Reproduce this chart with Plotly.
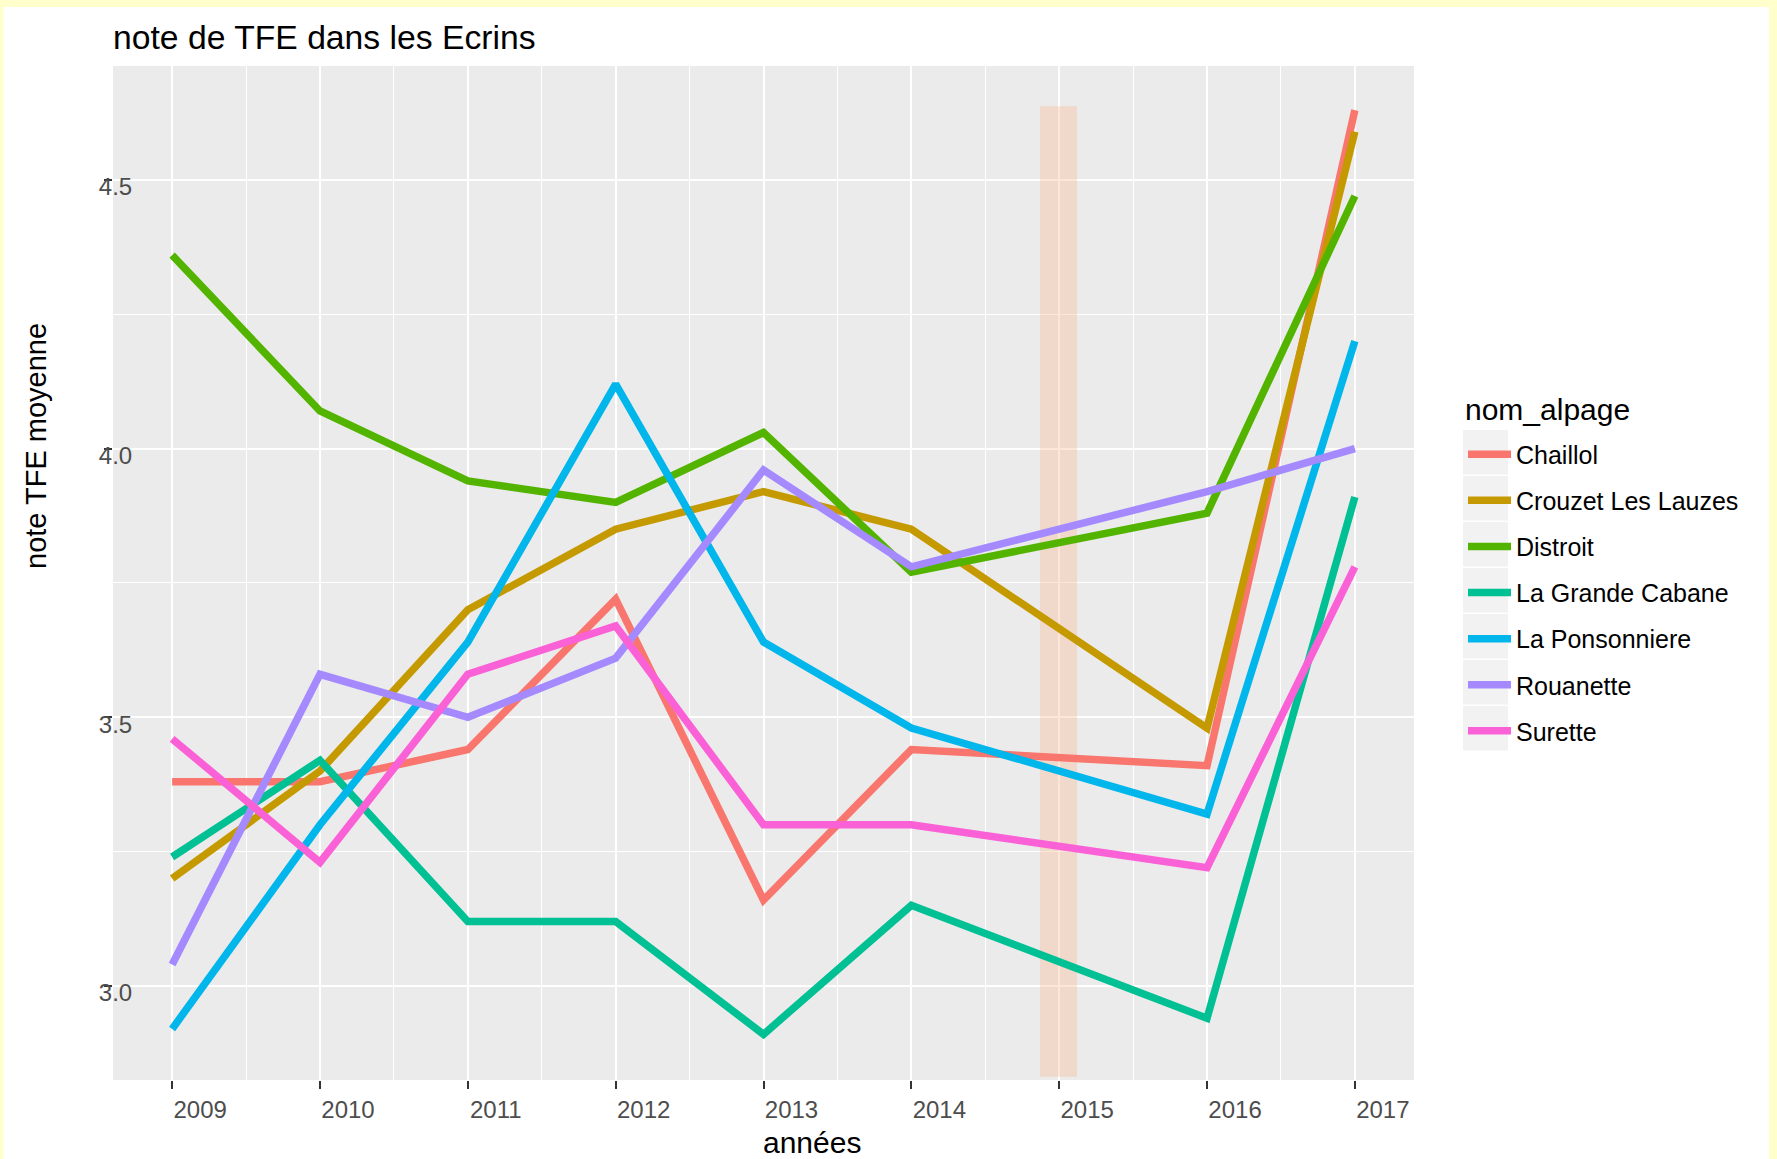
import plotly.graph_objects as go

# data
annees = [2009, 2010, 2011, 2012, 2013, 2014, 2016, 2017]

alpages = ['Chaillol', 'Crouzet Les Lauzes', 'Distroit', 'La Grande Cabane',
           'La Ponsonniere', 'Rouanette', 'Surette']

chaillol = [3.38, 3.38, 3.44, 3.72, 3.16, 3.44, 3.41, 4.63]
crouzet = [3.20, 3.40, 3.70, 3.85, 3.92, 3.85, 3.48, 4.59]
distroit = [4.36, 4.07, 3.94, 3.90, 4.03, 3.77, 3.88, 4.47]
grande_cabane = [3.24, 3.42, 3.12, 3.12, 2.91, 3.15, 2.94, 3.91]
ponsonniere = [2.92, 3.30, 3.64, 4.12, 3.64, 3.48, 3.32, 4.20]
rouanette = [3.04, 3.58, 3.50, 3.61, 3.96, 3.78, 3.92, 4.00]
surette = [3.46, 3.23, 3.58, 3.67, 3.30, 3.30, 3.22, 3.78]

series = [chaillol, crouzet, distroit, grande_cabane, ponsonniere, rouanette, surette]
couleurs = ['#F8766D', '#C49A00', '#53B400', '#00C094', '#00B6EB', '#A58AFF', '#FB61D7']

ytick_vals = [3.0, 3.5, 4.0, 4.5]

# figure geometry (pixels)
W, H = 1777, 1159
ML, MR, MT, MB = 113, 363, 66, 79
PW, PH = W - ML - MR, H - MT - MB


def px(x):
    return (x - ML) / PW


def py(y):
    return (H - MB - y) / PH


fig = go.Figure()
for nom, vals, col in zip(alpages, series, couleurs):
    fig.add_trace(go.Scatter(
        x=annees, y=vals, mode='lines', name=nom,
        legendgroup=nom,
        line=dict(color=col, width=7.5),
    ))

# highlighted year (2015, no data)
fig.add_shape(type='rect', xref='x', yref='y',
              x0=2014.87, x1=2015.12, y0=2.831, y1=4.637,
              fillcolor='rgba(250,180,140,0.35)', line_width=0, layer='between')

# yellow frame around the image
jaune = '#FFFFCC'
for x0, x1, y0, y1 in [(0, W, 0, 7), (0, 3.5, 0, H), (1769, W, 0, H)]:
    fig.add_shape(type='rect', xref='paper', yref='paper',
                  x0=px(x0), x1=px(x1), y0=py(y1), y1=py(y0),
                  fillcolor=jaune, line_width=0, layer='below')

# grey legend key backgrounds (ggplot style)
for k in range(len(alpages)):
    top = 430 + 46 * k
    fig.add_shape(type='rect', xref='paper', yref='paper',
                  x0=px(1463), x1=px(1508), y0=py(top + 44.5), y1=py(top),
                  fillcolor='#F2F2F2', line_width=0, layer='below')

# legend title
fig.add_annotation(text='nom_alpage', xref='paper', yref='paper',
                   x=px(1463), y=py(410), xanchor='left', yanchor='middle',
                   showarrow=False, font=dict(size=30, color='black'))

# axis titles (placed like the original, not centred)
fig.add_annotation(text='années', xref='paper', yref='paper',
                   x=px(812), y=py(1161), xanchor='center', yanchor='bottom',
                   showarrow=False, font=dict(size=30, color='black'))
fig.add_annotation(text='note TFE moyenne', xref='paper', yref='paper',
                   x=px(36), y=py(446), xanchor='center', yanchor='middle',
                   textangle=-90, showarrow=False, font=dict(size=29, color='black'))

fig.update_layout(
    width=W, height=H,
    margin=dict(l=ML, r=MR, t=MT, b=MB),
    paper_bgcolor='white',
    plot_bgcolor='#EBEBEB',
    font=dict(family='Liberation Sans, Arial, sans-serif', color='black'),
    title=dict(text='note de TFE dans les Ecrins', xref='paper', x=0, xanchor='left',
               y=1 - 37 / H, yanchor='middle', font=dict(size=33.7, color='black')),
    showlegend=True,
    legend=dict(
        font=dict(size=25),
        x=px(1463), xanchor='left', y=py(431.5), yanchor='top',
        tracegroupgap=10.6, itemwidth=43, bgcolor='rgba(0,0,0,0)',
    ),
    xaxis=dict(
        range=[2008.6, 2017.4], tickmode='array', tickvals=annees + [2015],
        ticks='outside', ticklen=8, tickwidth=2, tickcolor='#333333',
        tickfont=dict(size=24, color='#4D4D4D'), ticklabelshift=28,
        showgrid=True, gridcolor='white', gridwidth=2, zeroline=False,
        minor=dict(tickmode='array', tickvals=[2009.5 + k for k in range(8)],
                   showgrid=True, gridcolor='white', gridwidth=1.2, ticks=''),
    ),
    yaxis=dict(
        range=[2.825, 4.712], tickmode='array', tickvals=ytick_vals,
        tickformat='.1f',
        ticks='outside', ticklen=8, tickwidth=2, tickcolor='#333333',
        tickfont=dict(size=24, color='#4D4D4D'),
        ticklabelstandoff=-33, ticklabelshift=7,
        showgrid=True, gridcolor='white', gridwidth=2, zeroline=False,
        minor=dict(tickmode='array', tickvals=[3.25, 3.75, 4.25],
                   showgrid=True, gridcolor='white', gridwidth=1.2, ticks=''),
    ),
)

# no page margin around the figure
fig.write_html('out.html', config={'displayModeBar': False},
               post_script="document.body.style.margin='0';")
